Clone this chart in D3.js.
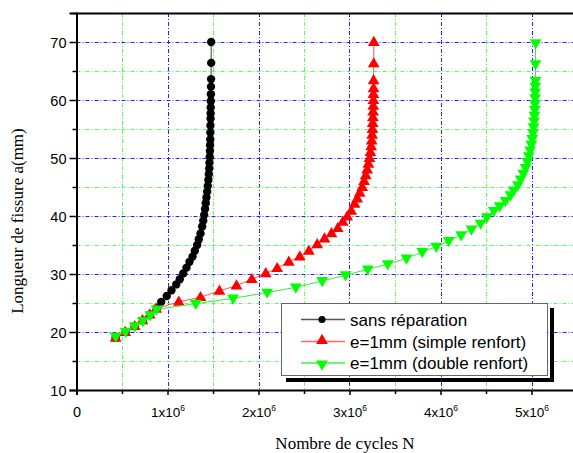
<!DOCTYPE html>
<html>
<head>
<meta charset="utf-8">
<script src="https://cdn.jsdelivr.net/npm/d3@7"></script>
<style>
  body { margin: 0; background: #fff; }
  svg { display: block; }
</style>
</head>
<body>
<svg></svg>
<script>
// crack length a (mm) vs number of cycles N
var blackA = [19,20,21,22,23,24.2,25.2,26.2,27.2,28.2,29.1,30.1,31.1,32.1,33,34,35,36,37,38.2,39.2,40.2,41.2,42.2,43.2,44.2,45.2,46.2,47.2,48.2,49.2,50.2,51.2,52.2,53.2,54.4,55.6,56.8,57.7,58.7,59.8,61.0,62.3,63.6,66.4,70];
var blackN = [0.43,0.54,0.64,0.73,0.81,0.887,0.931,0.992,1.044,1.096,1.135,1.173,1.209,1.242,1.275,1.300,1.326,1.344,1.363,1.381,1.393,1.403,1.412,1.420,1.428,1.436,1.443,1.449,1.454,1.458,1.461,1.464,1.466,1.468,1.470,1.471,1.472,1.473,1.474,1.475,1.476,1.477,1.478,1.479,1.48,1.48];

var redA = [19,20,21,22,23,24,25.2,26,27.1,28,29.1,30.1,31,32.1,33,34,35.1,36.1,37,37.9,39,39.9,40.9,42.1,43,44,45,46,47,48,49,50,51,52,53,54,55,56,57,58,59,60,61,62,63.4,66.3,70];
var redN = [0.43,0.535,0.64,0.725,0.805,0.875,1.124,1.363,1.571,1.758,1.926,2.08,2.205,2.333,2.454,2.553,2.645,2.725,2.802,2.871,2.926,2.975,3.019,3.055,3.085,3.112,3.14,3.16,3.178,3.194,3.208,3.22,3.23,3.238,3.244,3.249,3.252,3.255,3.257,3.259,3.261,3.262,3.263,3.264,3.265,3.266,3.267];

var greenA = [19.2,20.05,21,21.9,22.9,23.9,24.9,25.8,26.8,27.7,28.8,29.8,30.8,31.7,32.7,33.8,34.7,35.7,36.7,37.7,38.7,39.8,40.9,41.7,42.6,43.6,44.4,45.3,46.3,47.3,48.3,49.3,50.3,51.3,52.3,53.3,54.3,55.3,56.3,57.3,58.3,59.3,60.3,61.3,62.3,63.3,66.2,69.8];
var greenN = [0.43,0.54,0.64,0.73,0.81,0.88,1.31,1.72,2.095,2.41,2.70,2.956,3.20,3.42,3.626,3.80,3.953,4.09,4.227,4.34,4.44,4.51,4.585,4.65,4.714,4.769,4.805,4.85,4.88,4.91,4.935,4.955,4.97,4.985,4.998,5.008,5.016,5.022,5.028,5.032,5.036,5.038,5.04,5.041,5.042,5.043,5.044,5.045];

var seriesNames = ["sans réparation", "e=1mm (simple renfort)", "e=1mm (double renfort)"];

var xMajor = [0, 1e6, 2e6, 3e6, 4e6, 5e6];
var xMinor = [0.5e6, 1.5e6, 2.5e6, 3.5e6, 4.5e6, 5.5e6];
var yMajor = [10, 20, 30, 40, 50, 60, 70];
var yMinor = [15, 25, 35, 45, 55, 65, 75];

var width = 573;
var height = 453;

var svg = d3.select("svg")
              .attr("width", width)
              .attr("height", height);

var x = d3.scaleLinear().domain([0, 5.5e6]).range([76.5, 577]);
var y = d3.scaleLinear().domain([10, 75]).range([390, 13]);

// grid
var grid = svg.append("g").attr("fill", "none").attr("stroke-width", 1).attr("stroke-dasharray", "4,2,1,2");
grid.selectAll(".vmaj").data(xMajor.slice(1)).enter().append("line")
    .attr("x1", d => Math.round(x(d)) + 0.5).attr("x2", d => Math.round(x(d)) + 0.5)
    .attr("y1", y(75)).attr("y2", y(10)).attr("stroke", "#2222ff");
grid.selectAll(".vmin").data(xMinor).enter().append("line")
    .attr("x1", d => Math.round(x(d)) + 0.5).attr("x2", d => Math.round(x(d)) + 0.5)
    .attr("y1", y(75)).attr("y2", y(10)).attr("stroke", "#55ff55");
grid.selectAll(".hmaj").data(yMajor.slice(1)).enter().append("line")
    .attr("y1", d => Math.round(y(d)) + 0.5).attr("y2", d => Math.round(y(d)) + 0.5)
    .attr("x1", x(0)).attr("x2", width).attr("stroke", "#2222ff");
grid.selectAll(".hmin").data(yMinor.slice(0, -1)).enter().append("line")
    .attr("y1", d => Math.round(y(d)) + 0.5).attr("y2", d => Math.round(y(d)) + 0.5)
    .attr("x1", x(0)).attr("x2", width).attr("stroke", "#55ff55");

// series
function pts(A, N) { return A.map((a, i) => [N[i] * 1e6, a]); }
var line = d3.line().x(d => x(d[0])).y(d => y(d[1]));

var tri = d3.symbol().type(d3.symbolTriangle).size(60)();

function drawSeries(data, lineColor, fill, kind) {
  svg.append("path").datum(data)
      .attr("d", line).attr("fill", "none")
      .attr("stroke", lineColor).attr("stroke-width", 1);
  var g = svg.append("g");
  var m = g.selectAll("path").data(data).enter().append("path")
      .attr("fill", fill);
  if (kind === "circle") {
    m.attr("d", d3.symbol().type(d3.symbolCircle).size(55)())
     .attr("transform", d => `translate(${x(d[0])},${y(d[1])})`);
  } else if (kind === "up") {
    m.attr("d", tri)
     .attr("transform", d => `translate(${x(d[0])},${y(d[1]) + 0.5})`);
  } else {
    m.attr("d", tri)
     .attr("transform", d => `translate(${x(d[0])},${y(d[1]) - 0.5}) rotate(180)`);
  }
}

drawSeries(pts(blackA, blackN), "#444444", "#000000", "circle");
drawSeries(pts(redA, redN), "#ff5555", "#ff0000", "up");
drawSeries(pts(greenA, greenN), "#33ee33", "#00ff00", "down");

// axes
var xAxis = svg.append("g").attr("transform", "translate(0,390)")
    .call(d3.axisBottom(x).tickValues(xMajor).tickSize(5).tickFormat(""));
svg.append("g").attr("transform", "translate(0,390)")
    .call(d3.axisBottom(x).tickValues(xMinor).tickSize(4).tickFormat(""))
    .select(".domain").remove();
var yAxis = svg.append("g").attr("transform", "translate(76.5,0)")
    .call(d3.axisLeft(y).tickValues(yMajor).tickSize(7).tickFormat(d3.format("d")));
svg.append("g").attr("transform", "translate(76.5,0)")
    .call(d3.axisLeft(y).tickValues(yMinor).tickSize(4).tickFormat(""))
    .select(".domain").remove();

svg.selectAll(".domain").attr("stroke-width", 2).attr("stroke", "#000");
svg.selectAll(".tick line").attr("stroke-width", 1.5).attr("stroke", "#000");
yAxis.selectAll("text").attr("font-family", "Liberation Sans, Arial, sans-serif")
    .attr("font-size", 14.5).attr("fill", "#000").attr("x", -10).attr("dy", "0.36em");

// x tick labels with superscript
xAxis.selectAll(".tick").append("text")
    .attr("y", 27).attr("fill", "#000").attr("text-anchor", "middle")
    .attr("font-family", "Liberation Sans, Arial, sans-serif").attr("font-size", 13.5)
    .each(function(d) {
      var t = d3.select(this);
      var k = d / 1e6;
      if (k === 0) { t.attr("font-size", 14.5).text("0"); return; }
      t.append("tspan").text(k + "x10");
      t.append("tspan").attr("dy", -6).attr("font-size", 8.5).text("6");
    });

// top frame line
svg.append("line").attr("x1", 76.5).attr("x2", width).attr("y1", 13.5).attr("y2", 13.5)
    .attr("stroke", "#000").attr("stroke-width", 2);

// axis titles
svg.append("text").attr("transform", "translate(23,221) rotate(-90)")
    .attr("text-anchor", "middle").attr("font-family", "Liberation Serif, Times New Roman, serif")
    .attr("font-size", 17).attr("fill", "#000").text("Longueur de fissure a(mm)");
svg.append("text").attr("x", 345).attr("y", 449)
    .attr("text-anchor", "middle").attr("font-family", "Liberation Serif, Times New Roman, serif")
    .attr("font-size", 17).attr("fill", "#000").text("Nombre de cycles N");

// legend
var lg = svg.append("g");
lg.append("line").attr("x1", 552).attr("x2", 552).attr("y1", 308).attr("y2", 382)
    .attr("stroke", "#000").attr("stroke-width", 4);
lg.append("line").attr("x1", 286).attr("x2", 554).attr("y1", 380).attr("y2", 380)
    .attr("stroke", "#000").attr("stroke-width", 4);
lg.append("rect").attr("x", 281.5).attr("y", 303.5).attr("width", 266).attr("height", 72)
    .attr("fill", "#fff").attr("stroke", "#666").attr("stroke-width", 1);

var legendColors = ["#555555", "#ff6666", "#44ee44"];
var legendFill = ["#000", "#ff0000", "#00ff00"];
var legendY = [319.5, 341.5, 363];
seriesNames.forEach(function(name, i) {
  lg.append("line").attr("x1", 301).attr("x2", 345).attr("y1", legendY[i]).attr("y2", legendY[i])
      .attr("stroke", legendColors[i]).attr("stroke-width", 1.5);
  var sym = lg.append("path").attr("fill", legendFill[i]);
  if (i === 0) sym.attr("d", d3.symbol().type(d3.symbolCircle).size(40)()).attr("transform", `translate(322,${legendY[i]})`);
  else if (i === 1) sym.attr("d", tri).attr("transform", `translate(322,${legendY[i] - 1})`);
  else sym.attr("d", tri).attr("transform", `translate(322,${legendY[i] + 1}) rotate(180)`);
  lg.append("text").attr("x", 350).attr("y", legendY[i]).attr("dy", "0.36em")
      .attr("font-family", "Liberation Sans, Arial, sans-serif").attr("font-size", 17)
      .attr("fill", "#000").text(name);
});
</script>
</body>
</html>
